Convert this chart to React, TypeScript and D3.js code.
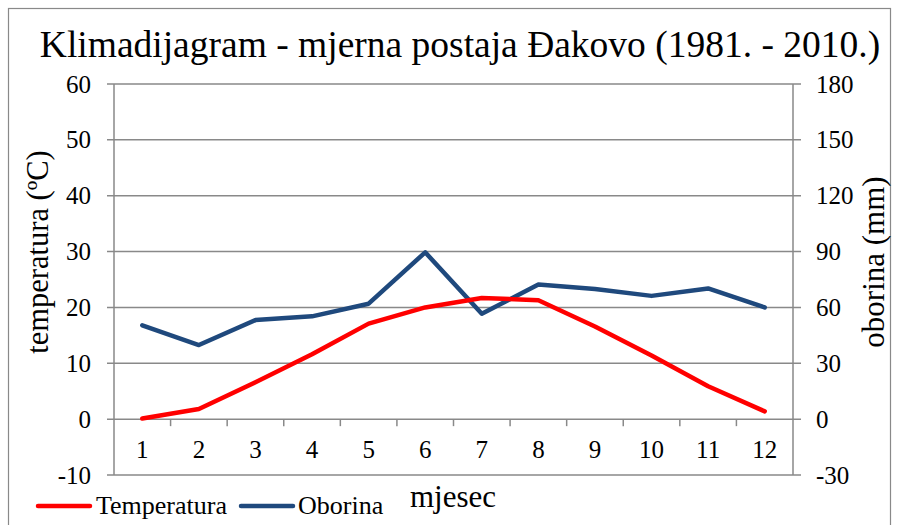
import * as d3 from "d3";

const months = ["1", "2", "3", "4", "5", "6", "7", "8", "9", "10", "11", "12"];
const temperatura = [0.1, 1.8, 6.6, 11.6, 17.1, 20.0, 21.7, 21.3, 16.6, 11.4, 5.9, 1.4];
const oborina = [50.4, 39.8, 53.2, 55.2, 62.0, 89.6, 56.6, 72.3, 69.9, 66.2, 70.2, 60.0];
const tempTicks = [-10, 0, 10, 20, 30, 40, 50, 60];
const rainTicks = [-30, 0, 30, 60, 90, 120, 150, 180];

const W = 899;
const H = 525;
const left = 114;
const right = 793;
const top = 84;
const bottom = 475;
const grey = "#898989";
const font = "'Liberation Serif', 'Times New Roman', serif";

export default function App() {
  const x = d3.scaleBand<string>().domain(months).range([left, right]);
  const yT = d3.scaleLinear().domain([-10, 60]).range([bottom, top]);
  const yR = d3.scaleLinear().domain([-30, 180]).range([bottom, top]);
  const cx = (m: string) => (x(m) ?? 0) + x.bandwidth() / 2;

  const tLine = d3
    .line<number>()
    .x((_, i) => cx(months[i]))
    .y((d) => yT(d));
  const rLine = d3
    .line<number>()
    .x((_, i) => cx(months[i]))
    .y((d) => yR(d));

  const boundaries = months.map((m) => (x(m) ?? 0) + x.step()).slice(0, -1);

  return (
    <svg width={W} height={H} style={{ position: "absolute", left: 0, top: 0 }} fontFamily={font}>
      <rect x={0} y={0} width={W} height={H} fill="#fff" />
      <rect x={8.5} y={8.5} width={882} height={540} fill="none" stroke={grey} strokeWidth={1.2} />

      <text x={460} y={57} textAnchor="middle" fontSize={37.5} fill="#000">
        Klimadijagram - mjerna postaja Đakovo (1981. - 2010.)
      </text>

      {/* grid */}
      {tempTicks.map((t) => (
        <line key={t} x1={left - 7} x2={right + 8} y1={yT(t)} y2={yT(t)} stroke={grey} strokeWidth={1.5} />
      ))}
      <line x1={left} x2={left} y1={top} y2={bottom} stroke={grey} strokeWidth={1.5} />
      <line x1={right} x2={right} y1={top} y2={bottom} stroke={grey} strokeWidth={1.5} />
      {boundaries.map((b, i) => (
        <line key={i} x1={b} x2={b} y1={yT(0)} y2={yT(0) + 7} stroke={grey} strokeWidth={1.5} />
      ))}

      {/* tick labels */}
      {tempTicks.map((t) => (
        <text key={t} x={91} y={yT(t)} dy="0.34em" textAnchor="end" fontSize={25} fill="#000">
          {t}
        </text>
      ))}
      {rainTicks.map((t) => (
        <text key={t} x={816} y={yR(t)} dy="0.34em" textAnchor="start" fontSize={25} fill="#000">
          {t}
        </text>
      ))}
      {months.map((m) => (
        <text key={m} x={cx(m)} y={458} textAnchor="middle" fontSize={25} fill="#000">
          {m}
        </text>
      ))}

      <text transform={`translate(48,252) rotate(-90)`} textAnchor="middle" fontSize={30.5} fill="#000">
        temperatura (ºC)
      </text>
      <text transform={`translate(884,262) rotate(-90)`} textAnchor="middle" fontSize={31} fill="#000">
        oborina (mm)
      </text>

      {/* series */}
      <path d={rLine(oborina) ?? ""} fill="none" stroke="#1f497d" strokeWidth={4.5} strokeLinejoin="round" strokeLinecap="round" />
      <path d={tLine(temperatura) ?? ""} fill="none" stroke="#ff0000" strokeWidth={4.5} strokeLinejoin="round" strokeLinecap="round" />

      {/* legend */}
      <line x1={38} x2={90} y1={506} y2={506} stroke="#ff0000" strokeWidth={4.5} strokeLinecap="round" />
      <text x={96} y={514} fontSize={26} fill="#000">Temperatura</text>
      <line x1={241} x2={293} y1={506} y2={506} stroke="#1f497d" strokeWidth={4.5} strokeLinecap="round" />
      <text x={298} y={514} fontSize={26} fill="#000">Oborina</text>
      <text x={410} y={507} fontSize={31} fill="#000">mjesec</text>
    </svg>
  );
}
